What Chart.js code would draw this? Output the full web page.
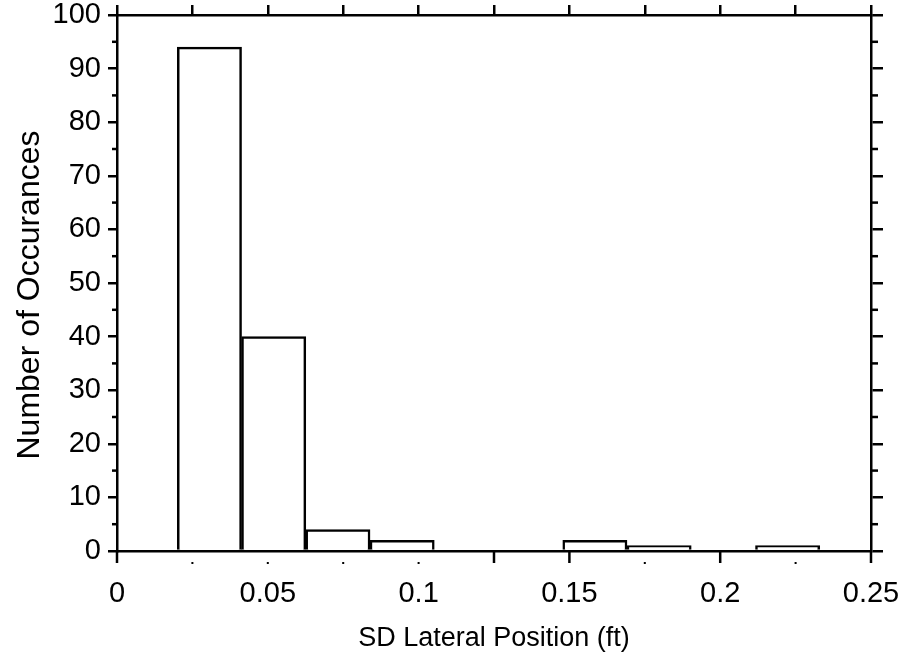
<!DOCTYPE html>
<html>
<head>
<meta charset="utf-8">
<script src="https://cdn.jsdelivr.net/npm/chart.js@4.4.1/dist/chart.umd.min.js"></script>
<style>
  html, body { margin: 0; padding: 0; background: #fff; }
  canvas { display: block; }
</style>
</head>
<body>
<canvas id="hist" width="913" height="663"></canvas>
<script>
// histogram bins (ft) and counts
var binEdges = [0.0200, 0.0413, 0.0626, 0.0839, 0.1052, 0.1265, 0.1478, 0.1691, 0.1904, 0.2117, 0.2330];
var counts = [94, 40, 4, 2, 0, 0, 2, 1, 0, 1];
var xTicks = [0, 0.05, 0.1, 0.15, 0.2, 0.25];
var xTickLabels = ['0', '0.05', '0.1', '0.15', '0.2', '0.25'];
var yTicks = [0, 10, 20, 30, 40, 50, 60, 70, 80, 90, 100];
var xTitle = 'SD Lateral Position (ft)';
var yTitle = 'Number of Occurances';

var FONT = '"Liberation Sans", Arial, Helvetica, sans-serif';
var INK = '#000';
var LW = 2.5;

var bars = counts.map(function(c, i) {
  return { x: (binEdges[i] + binEdges[i + 1]) / 2, y: c };
});

function fixTicks(list) {
  return function(scale) { scale.ticks = list.map(function(v) { return { value: v }; }); };
}
// pin the plot frame where the original has it
function boxSize(prop, size) {
  return function(s) {
    s[prop] = size;
    s.paddingLeft = s.paddingRight = s.paddingTop = s.paddingBottom = 0;
  };
}

// minor ticks on the frame, plus the short bottom marks of the original
var frameTicks = {
  id: 'frameTicks',
  afterDraw: function(chart) {
    var ctx = chart.ctx, a = chart.chartArea;
    var x = chart.scales.x, y = chart.scales.y;
    ctx.save();
    ctx.strokeStyle = INK;
    ctx.fillStyle = INK;
    ctx.lineWidth = LW;
    function seg(x1, y1, x2, y2) { ctx.beginPath(); ctx.moveTo(x1, y1); ctx.lineTo(x2, y2); ctx.stroke(); }
    [5, 15, 25, 35, 45, 55, 65, 75, 85, 95].forEach(function(v) {
      var py = y.getPixelForValue(v);
      seg(a.left - 5, py, a.left, py);
      seg(a.right, py, a.right + 7, py);
    });
    [0, 0.125, 0.15, 0.2, 0.25].forEach(function(v) {
      var px = x.getPixelForValue(v);
      seg(px, a.bottom, px, a.bottom + 12);
    });
    [0.025, 0.05, 0.075, 0.1, 0.175, 0.225].forEach(function(v) {
      var px = x.getPixelForValue(v);
      ctx.fillRect(px - 1, a.bottom + 11, 2, 2);
    });
    ctx.restore();
  }
};

new Chart(document.getElementById('hist'), {
  type: 'bar',
  data: {
    datasets: [{
      data: bars,
      xAxisID: 'x',
      yAxisID: 'y',
      backgroundColor: '#fff',
      borderColor: INK,
      borderWidth: LW,
      borderSkipped: 'start',
      barPercentage: 1,
      categoryPercentage: 1
    }]
  },
  options: {
    responsive: false,
    animation: false,
    devicePixelRatio: 1,
    layout: { padding: 0 },
    plugins: { legend: { display: false }, tooltip: { enabled: false } },
    scales: {
      x: {
        type: 'linear', position: 'bottom', min: 0, max: 0.25, offset: false,
        afterBuildTicks: fixTicks(xTicks),
        afterFit: boxSize('height', 112),
        grid: { display: false, offset: false },
        border: { display: true, color: INK, width: LW },
        ticks: {
          color: INK, padding: 18, maxRotation: 0, autoSkip: false,
          font: { family: FONT, size: 29 },
          callback: function(v, i) { return xTickLabels[i]; }
        },
        title: { display: true, text: xTitle, color: INK, font: { family: FONT, size: 27 }, padding: { top: 0, bottom: 8 } }
      },
      x2: {
        type: 'linear', position: 'top', min: 0, max: 0.25, offset: false,
        afterBuildTicks: fixTicks([0, 0.025, 0.05, 0.075, 0.1, 0.125, 0.15, 0.175, 0.2, 0.225, 0.25]),
        afterFit: boxSize('height', 15),
        grid: { drawOnChartArea: false, offset: false, color: INK, lineWidth: LW, tickLength: 10 },
        border: { display: true, color: INK, width: LW },
        ticks: { display: false }
      },
      y: {
        type: 'linear', position: 'left', min: 0, max: 100,
        afterBuildTicks: fixTicks(yTicks),
        afterFit: boxSize('width', 117),
        grid: { drawOnChartArea: false, color: INK, lineWidth: LW, tickLength: 9 },
        border: { display: true, color: INK, width: LW },
        ticks: { color: INK, padding: 7, font: { family: FONT, size: 29 } },
        title: {
          display: true, text: yTitle, color: INK, align: 'center',
          font: { family: FONT, size: 32 }, padding: { top: 11, bottom: 0 }
        },
        // the original's y title sits a little below the frame's middle
        afterUpdate: function(s) { s._titleShift = 12; }
      },
      y2: {
        type: 'linear', position: 'right', min: 0, max: 100,
        afterBuildTicks: fixTicks(yTicks),
        afterFit: boxSize('width', 42),
        grid: { drawOnChartArea: false, color: INK, lineWidth: LW, tickLength: 12 },
        border: { display: true, color: INK, width: LW },
        ticks: { display: false }
      }
    }
  },
  plugins: [frameTicks, {
    id: 'titleShift',
    beforeDraw: function(chart) {
      var s = chart.scales.y;
      if (s._shifted) return;
      var orig = s.drawTitle;
      s.drawTitle = function() {
        var ctx = this.ctx;
        ctx.save();
        ctx.translate(0, this._titleShift || 0);
        orig.apply(this, arguments);
        ctx.restore();
      };
      s._shifted = true;
    }
  }]
});
</script>
</body>
</html>
